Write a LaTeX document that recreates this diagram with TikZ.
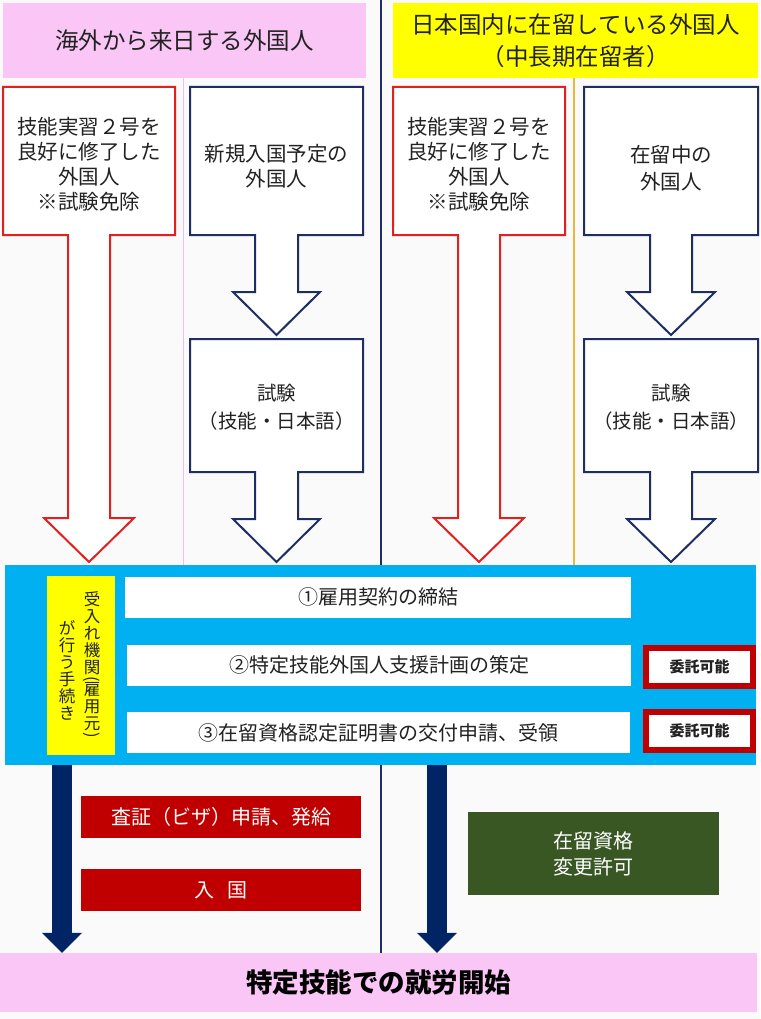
\documentclass[tikz,border=0pt]{standalone}
\usepackage{fontspec}
\usepackage{graphicx}
\setmainfont{Noto Sans CJK JP}
\usetikzlibrary{arrows.meta}

\definecolor{pagebg}{RGB}{250,250,250}
\definecolor{headpink}{RGB}{249,198,246}
\definecolor{headyellow}{RGB}{255,255,0}
\definecolor{bandcyan}{RGB}{0,176,240}
\definecolor{redline}{RGB}{226,32,32}
\definecolor{navyline}{RGB}{30,46,100}
\definecolor{flownavy}{RGB}{0,36,100}
\definecolor{darkred}{RGB}{192,0,0}
\definecolor{stayGreen}{RGB}{56,87,35}
\definecolor{goldline}{RGB}{232,186,60}
\definecolor{thinpink}{RGB}{240,190,238}
\definecolor{textgray}{RGB}{34,34,34}

\newcommand{\vparen}[1]{\rotatebox[origin=c]{-90}{#1}}

\begin{document}
\begin{tikzpicture}[x=1pt, y=-1pt,
    txt/.style={align=center, text=textgray, inner sep=0pt},
    redarrow/.style={draw=redline, line width=2pt, fill=white, line join=miter},
    bluearrow/.style={draw=navyline, line width=2pt, fill=white, line join=miter},
    stepbar/.style={fill=white, minimum height=41pt, inner sep=0pt, text=textgray, font=\fontsize{20}{24}\selectfont},
    outsrc/.style={draw=darkred, line width=6pt, fill=white, minimum width=107pt, minimum height=38pt, inner sep=0pt, text=textgray, font=\fontsize{15}{18}\selectfont\bfseries},
    redstep/.style={fill=darkred, text=white, minimum width=280pt, minimum height=42pt, inner sep=0pt, font=\fontsize{20}{24}\selectfont},
    vtxt/.style={align=center, text=textgray, inner sep=0pt, font=\fontsize{16.5}{17}\selectfont},
    dropflow/.style={draw=flownavy, line width=20pt, -{Triangle[width=40pt,length=20pt,line width=0pt]}}
]
    \useasboundingbox[fill=pagebg] (0,0) rectangle (760,1019);

    % Headers
    \node[fill=headpink, minimum width=363pt, minimum height=75pt, inner sep=0pt, text=textgray, font=\fontsize{23.5}{32}\selectfont] (overseas) at (184.5,40.5) {海外から来日する外国人};
    \node[fill=headyellow, minimum width=365pt, minimum height=75pt, inner sep=0pt, align=center, text=textgray, font=\fontsize{23.5}{32}\selectfont] (domestic) at (575.5,40.5) {日本国内に在留している外国人\\（中長期在留者）};

    % Dividers
    \draw[thinpink, line width=1pt] (183,78) -- (183,565);
    \draw[goldline, line width=1.5pt] (574,78) -- (574,565);
    \draw[navyline, line width=2.5pt] (381,0) -- (381,953);

    % Outline arrows, overseas side
    \path[redarrow] (3,87) -- (175,87) -- (175,235) -- (110,235) -- (110,518) -- (134,518) -- (89,562)
        -- (44,518) -- (68,518) -- (68,235) -- (3,235) -- cycle;
    \path[bluearrow] (190,87) -- (363,87) -- (363,235) -- (298,235) -- (298,292) -- (320,292) -- (276.5,335)
        -- (233,292) -- (255,292) -- (255,235) -- (190,235) -- cycle;
    \path[bluearrow] (190,339) -- (363,339) -- (363,472) -- (298,472) -- (298,519) -- (320,519) -- (276.5,562)
        -- (233,519) -- (255,519) -- (255,472) -- (190,472) -- cycle;

    % Outline arrows, domestic side
    \path[redarrow] (393,87) -- (565,87) -- (565,235) -- (500,235) -- (500,518) -- (524,518) -- (479,562)
        -- (434,518) -- (458,518) -- (458,235) -- (393,235) -- cycle;
    \path[bluearrow] (584,87) -- (758,87) -- (758,235) -- (692,235) -- (692,292) -- (715,292) -- (671,335)
        -- (627,292) -- (650,292) -- (650,235) -- (584,235) -- cycle;
    \path[bluearrow] (584,339) -- (758,339) -- (758,472) -- (692,472) -- (692,519) -- (715,519) -- (671,562)
        -- (627,519) -- (650,519) -- (650,472) -- (584,472) -- cycle;

    % Box texts
    \node[txt, font=\fontsize{20.5}{25}\selectfont] (trainA) at (89,164) {技能実習２号を\\良好に修了した\\外国人\\※試験免除};
    \node[txt, font=\fontsize{20.5}{25}\selectfont] (newA) at (276.5,166) {新規入国予定の\\外国人};
    \node[txt, font=\fontsize{19.5}{28}\selectfont] (examA) at (276.5,407) {試験\\（技能・日本語）};
    \node[txt, font=\fontsize{20.5}{25}\selectfont] (trainB) at (479,164) {技能実習２号を\\良好に修了した\\外国人\\※試験免除};
    \node[txt, font=\fontsize{20.5}{27}\selectfont] (stayB) at (671,168) {在留中の\\外国人};
    \node[txt, font=\fontsize{19.5}{28}\selectfont] (examB) at (671,407) {試験\\（技能・日本語）};

    % Procedures of the employer
    \node[fill=bandcyan, minimum width=751pt, minimum height=200pt, inner sep=0pt] (procedures) at (380.5,665) {};
    \node[fill=headyellow, minimum width=68pt, minimum height=179pt, inner sep=0pt] (employer) at (81,665.5) {};
    \node[vtxt] (orgA) at (92,666) {受\\入\\れ\\機\\関\\[-6pt]\vparen{(}\\[-6pt]雇\\用\\元\\[-6pt]\vparen{)}};
    \node[vtxt] (orgB) at (67,670) {が\\行\\う\\手\\続\\き};

    \node[stepbar, minimum width=506pt] (contract) at (378,597) {①雇用契約の締結};
    \node[stepbar, minimum width=504pt] (plan) at (379,665) {②特定技能外国人支援計画の策定};
    \node[stepbar, minimum width=503pt] (cert) at (378.5,732.5) {③在留資格認定証明書の交付申請、受領};
    \node[outsrc] (outA) at (699.5,667) {委託可能};
    \node[outsrc] (outB) at (699.5,731) {委託可能};

    % After the procedures
    \node[redstep] (visa) at (221,817) {査証（ビザ）申請、発給};
    \node[redstep] (entry) at (221,890) {入\hspace{13pt}国};
    \node[fill=stayGreen, text=white, minimum width=251pt, minimum height=83pt, inner sep=0pt, align=center, font=\fontsize{20}{26}\selectfont] (change) at (593.5,853.5) {在留資格\\変更許可};

    % Goal
    \node[fill=headpink, minimum width=757pt, minimum height=59pt, inner sep=0pt, text=black, font=\fontsize{26.5}{30}\selectfont\bfseries] (start) at (378.5,982.5) {特定技能での就労開始};

    % Flows to the goal
    \coordinate (dropA) at (62,765);
    \coordinate (dropB) at (437,765);
    \draw[dropflow] (dropA) -- (dropA |- start.north);
    \draw[dropflow] (dropB) -- (dropB |- start.north);
\end{tikzpicture}
\end{document}
